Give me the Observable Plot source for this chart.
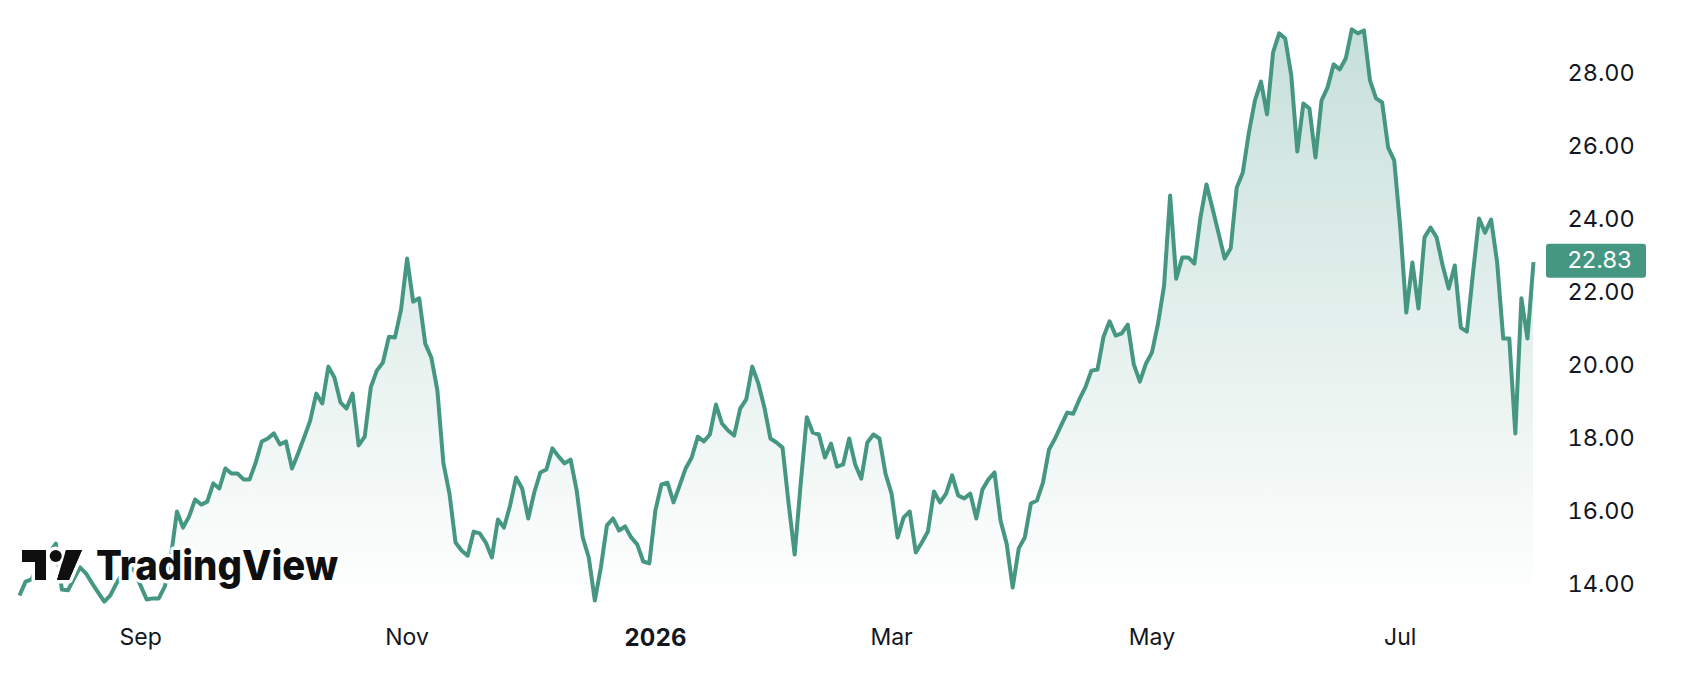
<!DOCTYPE html>
<html><head><meta charset="utf-8">
<script src="https://cdn.jsdelivr.net/npm/d3@7"></script>
<script src="https://cdn.jsdelivr.net/npm/@observablehq/plot@0.6"></script>
<style>html,body{margin:0;padding:0;background:#fff}svg{display:block}</style>
</head><body><div id="chart"></div>
<script>
const closes = [13.70,14.08,14.14,14.52,14.66,14.88,15.12,13.86,13.84,14.16,14.47,14.30,14.03,13.78,13.53,13.70,14.03,14.30,14.52,14.36,
13.97,13.59,13.62,13.62,13.95,14.77,16.00,15.56,15.86,16.33,16.19,16.27,16.77,16.63,17.18,17.04,17.04,16.88,16.88,17.34,
17.92,18.00,18.14,17.84,17.92,17.18,17.59,18.03,18.49,19.23,18.96,19.97,19.67,18.99,18.82,19.23,17.81,18.05,19.40,19.86,
20.08,20.79,20.77,21.53,22.93,21.75,21.84,20.60,20.22,19.32,17.32,16.49,15.15,14.93,14.79,15.45,15.40,15.15,14.74,15.78,
15.56,16.16,16.93,16.63,15.81,16.52,17.07,17.15,17.73,17.51,17.32,17.42,16.58,15.29,14.74,13.56,14.47,15.62,15.81,15.48,
15.59,15.29,15.10,14.63,14.58,16.03,16.74,16.79,16.25,16.71,17.18,17.48,18.05,17.92,18.11,18.93,18.41,18.22,18.08,18.82,
19.07,19.97,19.51,18.85,18.00,17.89,17.75,16.22,14.82,16.77,18.58,18.16,18.11,17.48,17.86,17.23,17.29,18.00,17.29,16.90,
17.89,18.11,18.00,17.04,16.49,15.29,15.84,16.00,14.88,15.15,15.45,16.55,16.25,16.49,16.99,16.44,16.36,16.49,15.81,16.60,
16.88,17.07,15.75,15.12,13.92,14.99,15.29,16.22,16.30,16.79,17.70,18.00,18.36,18.71,18.68,19.07,19.40,19.86,19.89,20.79,
21.21,20.82,20.88,21.12,20.03,19.56,20.05,20.36,21.15,22.19,24.66,22.38,22.96,22.96,22.79,24.05,24.96,24.30,23.62,22.93,
23.21,24.88,25.29,26.38,27.26,27.78,26.88,28.58,29.10,28.96,27.95,25.86,27.18,27.04,25.70,27.26,27.62,28.25,28.11,28.41,
29.21,29.10,29.18,27.81,27.32,27.21,25.97,25.62,23.78,21.45,22.82,21.56,23.51,23.78,23.51,22.74,22.11,22.74,21.04,20.93,
22.52,24.03,23.64,24.00,22.82,20.74,20.74,18.14,21.84,20.74,22.83];
const monthTicks = [20, 64, 144, 187, 228];
const monthLabels = ["Sep", "Nov", "Mar", "May", "Jul"];
const yearTicks = [105];
const yearLabels = ["2026"];
const priceTicks = [14, 16, 18, 20, 22, 24, 26, 28];
const floorValue = 13.425;
const ceilValue = 30;
const green = "#459782";
const ink = "#131722";
const last = closes[closes.length - 1];
const font = "Inter, sans-serif";

const gradient = () => {
  const defs = d3.create("svg:defs");
  const g = defs.append("linearGradient").attr("id", "fade").attr("x1", 0).attr("x2", 0).attr("y1", 0).attr("y2", 1);
  g.append("stop").attr("offset", 0).attr("stop-color", green).attr("stop-opacity", 0.3);
  g.append("stop").attr("offset", 1).attr("stop-color", green).attr("stop-opacity", 0);
  return defs.node();
};
const priceTag = (index, {y}) => {
  const r = d3.create("svg:rect");
  r.attr("x", 1546).attr("width", 100).attr("y", y(last) - 18).attr("height", 34).attr("rx", 3).attr("fill", green);
  return r.node();
};
const logo = () => {
  const g = d3.create("svg:g");
  const halo = el => el.attr("fill", "#0f0f0f").attr("stroke", "#fff").attr("stroke-width", 7)
    .attr("stroke-linejoin", "round").attr("paint-order", "stroke");
  const mark = "M22 550H46V580H35V562H22Z M66 550H82L69 580H57Z";
  halo(g.append("path").attr("d", mark));
  halo(g.append("circle").attr("cx", 55.7).attr("cy", 556).attr("r", 6));
  g.append("path").attr("d", mark).attr("fill", "#0f0f0f");
  halo(g.append("text").text("TradingView").attr("x", 96).attr("y", 580).attr("text-anchor", "start")
    .attr("font-family", font).attr("font-weight", 800).attr("font-size", 41)
    .attr("textLength", 242).attr("lengthAdjust", "spacingAndGlyphs"));
  return g.node();
};

const chart = Plot.plot({
  width: 1684, height: 690,
  marginLeft: 19, marginRight: 151, marginTop: 0, marginBottom: 85,
  style: {fontFamily: font, background: "#fff", overflow: "visible"},
  x: {domain: [0, closes.length - 1]},
  y: {domain: [floorValue, ceilValue]},
  marks: [
    gradient,
    Plot.areaY(closes, {x: (d, i) => i, y1: floorValue, y2: d => d, fill: "url(#fade)"}),
    Plot.lineY(closes, {x: (d, i) => i, y: d => d, stroke: green, strokeWidth: 4, strokeLinejoin: "round", strokeLinecap: "butt"}),
    Plot.axisY(priceTicks, {anchor: "right", tickSize: 0, tickPadding: 34, label: null, tickFormat: d3.format(".2f"), fontSize: 23.5, fill: ink}),
    Plot.axisX(monthTicks, {anchor: "bottom", tickSize: 0, tickPadding: 23, label: null, tickFormat: d => monthLabels[monthTicks.indexOf(d)], fontSize: 23, fill: ink}),
    Plot.axisX(yearTicks, {anchor: "bottom", tickSize: 0, tickPadding: 23, label: null, tickFormat: d => yearLabels[yearTicks.indexOf(d)], fontSize: 24, fontWeight: 700, fill: ink}),
    priceTag,
    Plot.text([last], {x: () => closes.length - 1, y: d => d, dx: 34, dy: -1.5, textAnchor: "start", text: d => d3.format(".2f")(d), fill: "#fff", fontSize: 23.5}),
    logo
  ]
});
document.getElementById("chart").append(chart);
</script></body></html>
